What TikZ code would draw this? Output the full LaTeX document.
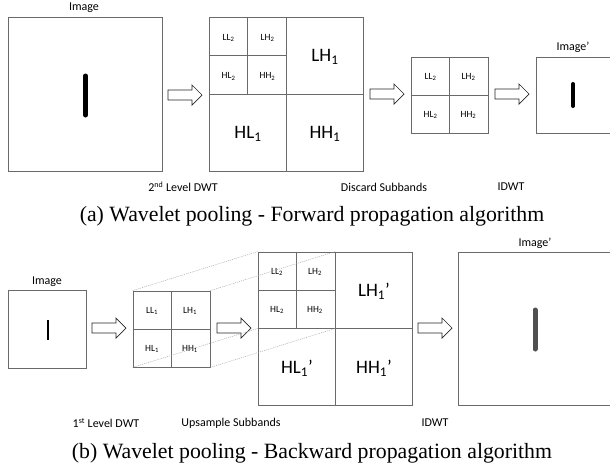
\documentclass[tikz,border=0pt]{standalone}
\usepackage{fontspec}
\setmainfont{Liberation Serif}
\newfontfamily\lblfont{Carlito}
\usetikzlibrary{calc}
\definecolor{boxgray}{HTML}{6A6A6A}
\definecolor{bargray}{HTML}{505050}
\tikzset{
  box/.style={draw=boxgray, line width=0.8pt, inner sep=0pt, fill=white},
  divline/.style={draw=boxgray, line width=0.8pt},
  lbl/.style={font=\lblfont\fontsize{12}{14}\selectfont, inner sep=0pt},
  small/.style={font=\lblfont\fontsize{9.5}{11}\selectfont, inner sep=0pt},
  large/.style={font=\lblfont\fontsize{19}{22}\selectfont, inner sep=0pt},
  capt/.style={font=\fontsize{21.8}{24}\selectfont, inner sep=0pt},
  proj/.style={draw=gray!80, line width=0.4pt, dash pattern=on 1pt off 1pt},
  arrline/.style={draw=black!85, line width=0.7pt, fill=white, line join=miter},
  blockarr/.pic={\path[arrline] (0,-5) -- (24,-5) -- (24,-10) -- (34,0) -- (24,10) -- (24,5) -- (0,5) -- cycle;}
}
\begin{document}
\begin{tikzpicture}[x=1pt, y=-1pt]
\useasboundingbox (0,0) rectangle (610,467);
\clip (0,0) rectangle (610,467);

% ---------------- (a) forward ----------------
\node[lbl] (imgAlbl) at (84,8) {Image};
\node[box, minimum width=154pt, minimum height=154pt] (imgA) at (85,94) {};
\draw[line width=5pt, line cap=round] (85.5,76) -- (85.5,115);

\pic at (168,95) {blockarr};

\node[box, minimum width=154pt, minimum height=154pt] (dwtA) at (286,94) {};
\draw[divline] (dwtA.north) -- (dwtA.south);
\draw[divline] (dwtA.west) -- (dwtA.east);
\draw[divline] ($(dwtA.north west)!0.5!(dwtA.north)$) -- ($(dwtA.west)!0.5!(dwtA.center)$);
\draw[divline] ($(dwtA.north west)!0.5!(dwtA.west)$) -- ($(dwtA.north)!0.5!(dwtA.center)$);
\node[small] (aLL2) at (228.5,38) {LL\textsubscript{2}};
\node[small] (aLH2) at (267.5,38) {LH\textsubscript{2}};
\node[small] (aHL2) at (228.5,76.5) {HL\textsubscript{2}};
\node[small] (aHH2) at (267.5,76.5) {HH\textsubscript{2}};
\node[large] (aLH1) at (325,57) {LH\textsubscript{1}};
\node[large] (aHL1) at (248,134) {HL\textsubscript{1}};
\node[large] (aHH1) at (325,134) {HH\textsubscript{1}};

\pic at (370,94) {blockarr};

\node[box, minimum width=77pt, minimum height=76pt] (discA) at (449.5,95) {};
\draw[divline] (discA.north) -- (discA.south);
\draw[divline] (discA.west) -- (discA.east);
\node[small] (dLL2) at (430.5,77) {LL\textsubscript{2}};
\node[small] (dLH2) at (468.5,77) {LH\textsubscript{2}};
\node[small] (dHL2) at (430.5,115) {HL\textsubscript{2}};
\node[small] (dHH2) at (468.5,115) {HH\textsubscript{2}};

\pic at (495,94) {blockarr};

\node[lbl] (outAlbl) at (573,47) {Image’};
\node[box, minimum width=77pt, minimum height=76pt] (outA) at (574.5,95) {};
\draw[line width=4pt, line cap=round] (573,84) -- (573,106);

\node[lbl] (tA1) at (183,187) {2\textsuperscript{nd} Level DWT};
\node[lbl] (tA2) at (384,187) {Discard Subbands};
\node[lbl] (tA3) at (511,187) {IDWT};
\node[capt] (captA) at (312,216) {(a) Wavelet pooling - Forward propagation algorithm};

% ---------------- (b) backward ----------------
\node[lbl] (imgBlbl) at (47,282) {Image};
\node[box, minimum width=78pt, minimum height=78pt] (imgB) at (47,329) {};
\draw[line width=2pt] (48,320) -- (48,340);

\pic at (92,328) {blockarr};

\node[box, minimum width=154pt, minimum height=153pt] (upB) at (335,328.5) {};
\node[box, minimum width=77pt, minimum height=76pt] (dwtB) at (171.5,329) {};
\draw[divline] (dwtB.north) -- (dwtB.south);
\draw[divline] (dwtB.west) -- (dwtB.east);
\node[small] (bLL1) at (152,311) {LL\textsubscript{1}};
\node[small] (bLH1) at (190,311) {LH\textsubscript{1}};
\node[small] (bHL1) at (152,349) {HL\textsubscript{1}};
\node[small] (bHH1) at (190,349) {HH\textsubscript{1}};

\pic at (217,328) {blockarr};

\draw[divline] (upB.north) -- (upB.south);
\draw[divline] (upB.west) -- (upB.east);
\draw[divline] ($(upB.north west)!0.5!(upB.north)$) -- ($(upB.west)!0.5!(upB.center)$);
\draw[divline] ($(upB.north west)!0.5!(upB.west)$) -- ($(upB.north)!0.5!(upB.center)$);
\node[small] (uLL2) at (277,272) {LL\textsubscript{2}};
\node[small] (uLH2) at (315,272) {LH\textsubscript{2}};
\node[small] (uHL2) at (277,310) {HL\textsubscript{2}};
\node[small] (uHH2) at (315,310) {HH\textsubscript{2}};
\node[large] (uLH1) at (374,291) {LH\textsubscript{1}’};
\node[large] (uHL1) at (297,368) {HL\textsubscript{1}’};
\node[large] (uHH1) at (374,368) {HH\textsubscript{1}’};

\draw[proj] (dwtB.north west) -- (upB.north west);
\draw[proj] (dwtB.north east) -- (upB.north);
\draw[proj] (dwtB.south west) -- (upB.west);
\draw[proj] (dwtB.south east) -- (upB.center);

\pic at (418,328) {blockarr};

\node[lbl] (outBlbl) at (535,243) {Image’};
\node[box, minimum width=153pt, minimum height=153pt] (outB) at (534.5,328.5) {};
\draw[bargray, line width=5pt, line cap=round] (535,310) -- (535,349);

\node[lbl] (tB1) at (106,423) {1\textsuperscript{st} Level DWT};
\node[lbl] (tB2) at (231,423) {Upsample Subbands};
\node[lbl] (tB3) at (435,423) {IDWT};
\node[capt] (captB) at (312,453) {(b) Wavelet pooling - Backward propagation algorithm};
\end{tikzpicture}
\end{document}
